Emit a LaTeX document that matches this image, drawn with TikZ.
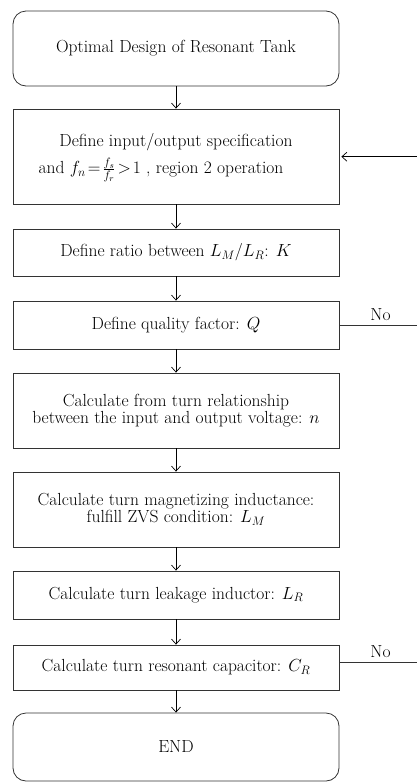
\RequirePackage{fix-cm}
\documentclass[tikz,border=0pt]{standalone}
\usepackage{fontspec}
\usetikzlibrary{arrows.meta}
\begin{document}
\begin{tikzpicture}[x=1pt,y=-1pt,
  font=\fontsize{17.5}{17}\selectfont,
  boxstyle/.style={draw=black!80, line width=0.8pt, minimum width=326pt, align=center, inner sep=0pt, anchor=center},
  roundbox/.style={boxstyle, rounded corners=13pt},
  flow/.style={draw=black, line width=0.7pt, -{Straight Barb[length=5pt,width=9pt]}},
  fb/.style={draw=black!80, line width=0.7pt}]
\useasboundingbox (0,0) rectangle (417,782);
\node[roundbox, minimum height=75pt] (b1) at (176,48.5) {Optimal Design of Resonant Tank};
\node[boxstyle, minimum height=95pt] (b2) at (176,156.5) {\rule{0pt}{16pt}Define input/output specification\\[6pt] and $f_n\!=\!\frac{f_s}{f_r}\!>\!1$ , region 2 operation\hspace*{30pt}};
\node[boxstyle, minimum height=47pt] (b3) at (176,252.5) {Define ratio between $L_M/L_R$: $K$};
\node[boxstyle, minimum height=48pt] (b4) at (176,325) {Define quality factor: $Q$};
\node[boxstyle, minimum height=75pt] (b5) at (176,410.5) {Calculate from turn relationship\\between the input and output voltage: $n$};
\node[boxstyle, minimum height=75pt] (b6) at (176,509.5) {Calculate turn magnetizing inductance:\\fulfill ZVS condition: $L_M$};
\node[boxstyle, minimum height=48pt] (b7) at (176,595) {Calculate turn leakage inductor: $L_R$};
\node[boxstyle, minimum height=45pt] (b8) at (176,667.5) {Calculate turn resonant capacitor: $C_R$};
\node[roundbox, minimum height=68pt] (b9) at (176,747) {END};
\draw[flow] (b1) -- (b2);
\draw[flow] (b2) -- (b3);
\draw[flow] (b3) -- (b4);
\draw[flow] (b4) -- (b5);
\draw[flow] (b5) -- (b6);
\draw[flow] (b6) -- (b7);
\draw[flow] (b7) -- (b8);
\draw[flow] (b8) -- (b9);
\coordinate (in2) at (417,156.7);
\coordinate (out4) at (417,325);
\coordinate (out8) at (417,662.7);
\draw[flow] (in2) -- ([xshift=2pt]b2.east |- in2);
\draw[fb] (b4.east) -- (out4) node[pos=0.53, above=1pt, black] (no1) {No};
\draw[fb] (b8.east |- out8) -- (out8) node[pos=0.53, above=1pt, black] (no2) {No};
\end{tikzpicture}
\end{document}
